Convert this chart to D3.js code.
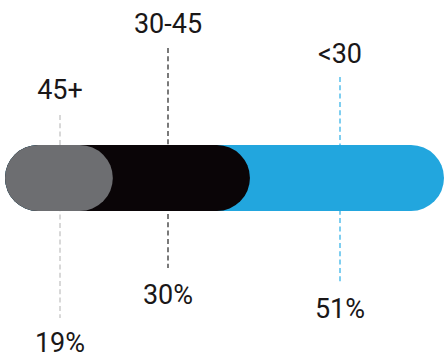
<!DOCTYPE html>
<html><head><meta charset="utf-8">
<script src="https://cdn.jsdelivr.net/npm/d3@7"></script>
<style>html,body{margin:0;padding:0;background:#fff;overflow:hidden}svg{display:block}</style>
</head><body>
<script>
const categories = ["45+", "30-45", "<30"];
const values = [19, 30, 51];
const valueLabels = ["19%", "30%", "51%"];
const barColors = ["#6d6e71", "#0a0507", "#22a6de"];
const lineColors = ["#c4c4c4", "#333333", "#3bb4e8"];
const topLabelY = [99, 32.5, 63];
const lineTop = [115, 48, 77];
const lineBottom = [318, 268, 282];
const bottomLabelY = [351.5, 303.5, 318];

const W = 444, H = 358;
const svg = d3.select("body").append("svg").attr("width", W).attr("height", H);

let cum = 0;
const data = values.map((v, i) => { const s = cum; cum += v; return {cat: categories[i], v, start: s, end: cum, i}; });

const x = d3.scaleLinear().domain([0, 100]).range([26, 483]);
const y = d3.scaleBand().domain(["bar"]).range([145, 211]);
const left = 5;
const r = y.bandwidth() / 2;

const segX = [60, 168, 340];

svg.selectAll("line.lead").data(data).enter().append("line")
  .attr("x1", d => segX[d.i]).attr("x2", d => segX[d.i])
  .attr("y1", d => lineTop[d.i]).attr("y2", d => lineBottom[d.i])
  .attr("stroke", d => lineColors[d.i]).attr("stroke-width", 1.3)
  .attr("stroke-dasharray", "5,3.3");

svg.selectAll("rect.bar").data(data.slice().reverse()).enter().append("rect")
  .attr("x", left).attr("y", y("bar"))
  .attr("width", d => Math.min(x(d.end), W) - left)
  .attr("height", y.bandwidth())
  .attr("rx", r).attr("ry", r)
  .attr("fill", d => barColors[d.i]);

svg.selectAll("text.cat").data(data).enter().append("text")
  .attr("x", d => segX[d.i]).attr("y", d => topLabelY[d.i])
  .attr("text-anchor", "middle")
  .attr("font-family", "Roboto, Arial, sans-serif").attr("font-size", 27)
  .attr("fill", "#1a1718").text(d => d.cat);

svg.selectAll("text.val").data(data).enter().append("text")
  .attr("x", d => segX[d.i]).attr("y", d => bottomLabelY[d.i])
  .attr("text-anchor", "middle")
  .attr("font-family", "Roboto, Arial, sans-serif").attr("font-size", 27)
  .attr("fill", "#1a1718").text(d => valueLabels[d.i]);
</script>
</body></html>
